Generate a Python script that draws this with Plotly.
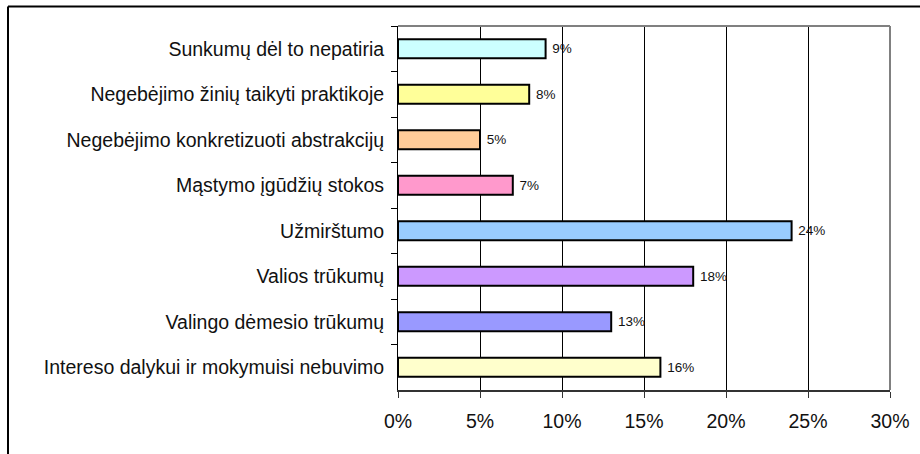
import plotly.graph_objects as go

categories = [
    "Sunkumų dėl to nepatiria",
    "Negebėjimo žinių taikyti praktikoje",
    "Negebėjimo konkretizuoti abstrakcijų",
    "Mąstymo įgūdžių stokos",
    "Užmirštumo",
    "Valios trūkumų",
    "Valingo dėmesio trūkumų",
    "Intereso dalykui ir mokymuisi nebuvimo",
]
values = [9, 8, 5, 7, 24, 18, 13, 16]
colors = ["#CCFFFF", "#FFFF99", "#FFCC99", "#FF99CC", "#99CCFF", "#CC99FF", "#9999FF", "#FFFFCC"]
tick_vals = [0, 5, 10, 15, 20, 25, 30]
tick_text = ["0%", "5%", "10%", "15%", "20%", "25%", "30%"]

W, H = 920, 454
L, R, T, B = 398, 30, 26, 64
pw, ph = W - L - R, H - T - B

fx = (8 - L) / pw
fy_top = 1 + (T - 6.5) / ph
fy_bot = -(B + 5) / ph
fx_right = 1 + (R + 5) / pw

fig = go.Figure(go.Bar(
    x=values, y=categories, orientation="h",
    marker=dict(color=colors, line=dict(color="black", width=2)),
    width=0.42,
    text=[f"\u00a0{v}%" for v in values], textposition="outside",
    textfont=dict(family="Liberation Sans, Arial", size=13.5, color="#111"),
    cliponaxis=False,
))

fig.update_layout(
    width=W, height=H,
    margin=dict(l=L, r=R, t=T, b=B, autoexpand=False),
    paper_bgcolor="white", plot_bgcolor="white",
    showlegend=False,
    font=dict(family="Liberation Sans, Arial", size=19.5, color="#111"),
    xaxis=dict(range=[0, 30], tickvals=tick_vals, ticktext=tick_text,
               showgrid=True, gridcolor="black", gridwidth=1,
               showline=True, linecolor="#333", linewidth=2,
               ticks="outside", ticklen=6, tickcolor="#333",
               tickfont=dict(size=19.5), zeroline=False, automargin=False,
               ticklabelstandoff=7),
    yaxis=dict(categoryorder="array", categoryarray=categories, autorange="reversed",
               showline=True, linecolor="black", linewidth=1,
               ticks="outside", ticklen=6, tickcolor="black", tickson="boundaries",
               tickfont=dict(size=19.5), showgrid=False, ticklabelstandoff=9,
               automargin=False),
    shapes=[
        dict(type="line", xref="paper", yref="paper", x0=0, x1=1, y0=1, y1=1,
             line=dict(color="#808080", width=2)),
        dict(type="line", xref="paper", yref="paper", x0=1, x1=1, y0=0, y1=1,
             line=dict(color="#808080", width=2)),
        dict(type="line", xref="paper", yref="paper", x0=fx, x1=fx, y0=fy_bot, y1=fy_top,
             line=dict(color="black", width=2)),
        dict(type="line", xref="paper", yref="paper", x0=fx, x1=fx_right, y0=fy_top, y1=fy_top,
             line=dict(color="black", width=2)),
    ],
)

fig.write_html("out.html", config={"displayModeBar": False},
               post_script="document.body.style.margin='0';")
